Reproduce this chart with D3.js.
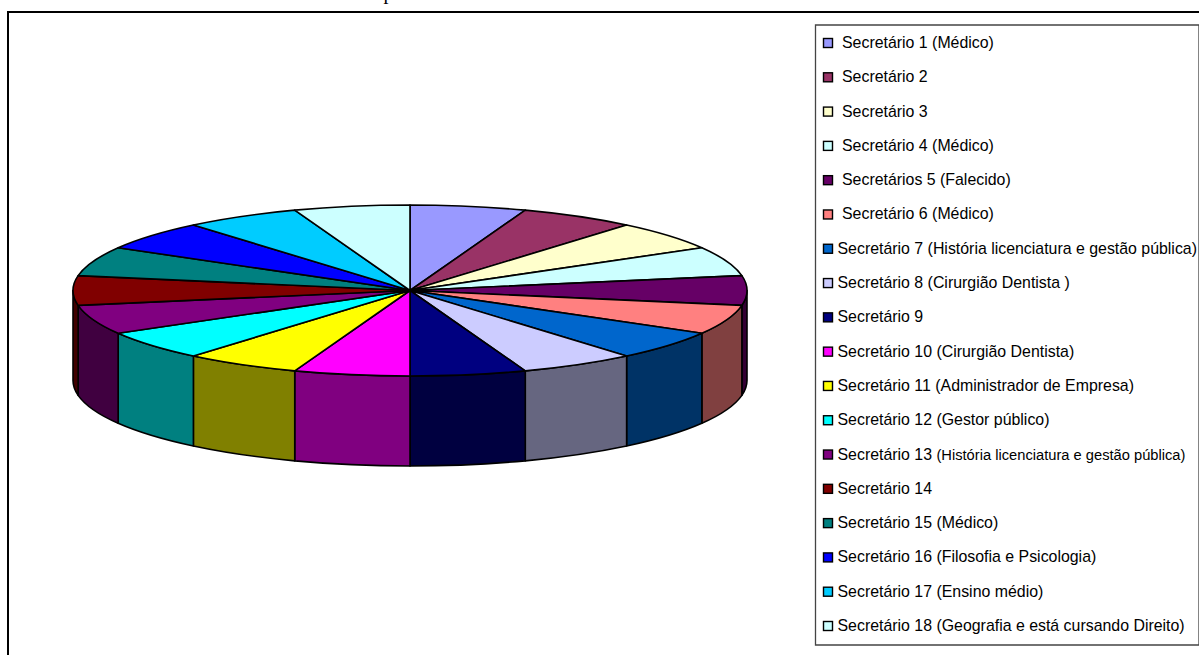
<!DOCTYPE html>
<html>
<head>
<meta charset="utf-8">
<script src="https://cdn.jsdelivr.net/npm/d3@7"></script>
<style>
  html, body { margin: 0; padding: 0; background: #fff; overflow: hidden; }
  svg { display: block; }
  text { font-family: "Liberation Sans", Arial, sans-serif; fill: #000; }
</style>
</head>
<body>
<svg width="1199" height="655"></svg>
<script>
// nomes dos secretarios, na ordem das fatias
const secretarios = [
  "Secretário 1 (Médico)",
  "Secretário 2",
  "Secretário 3",
  "Secretário 4 (Médico)",
  "Secretários 5 (Falecido)",
  "Secretário 6 (Médico)",
  "Secretário 7 (História licenciatura e gestão pública)",
  "Secretário 8 (Cirurgião Dentista )",
  "Secretário 9",
  "Secretário 10 (Cirurgião Dentista)",
  "Secretário 11 (Administrador de Empresa)",
  "Secretário 12 (Gestor público)",
  "Secretário 13 (História licenciatura e gestão pública)",
  "Secretário 14",
  "Secretário 15 (Médico)",
  "Secretário 16 (Filosofia e Psicologia)",
  "Secretário 17 (Ensino médio)",
  "Secretário 18 (Geografia e está cursando Direito)"
];
// cada secretario pesa o mesmo
const valores = [1, 1, 1, 1, 1, 1, 1, 1, 1, 1, 1, 1, 1, 1, 1, 1, 1, 1];
const cores = [
  "#9999ff", "#993366", "#ffffcc", "#ccffff", "#660066", "#ff8080",
  "#0066cc", "#ccccff", "#000080", "#ff00ff", "#ffff00", "#00ffff",
  "#800080", "#800000", "#008080", "#0000ff", "#00ccff", "#ccffff"
];

const svg = d3.select("svg");

// resto da linha de texto acima da moldura, cortada pela borda da pagina
svg.append("text")
  .attr("x", 383.5)
  .attr("y", -1)
  .attr("font-size", 20)
  .style("font-family", '"Liberation Serif", "Times New Roman", serif')
  .text("p");

// moldura externa
svg.append("path")
  .attr("d", "M8,655 V12 H1199")
  .attr("fill", "none")
  .attr("stroke", "#000")
  .attr("stroke-width", 2);

// pizza 3D
const cx = 410, cy = 290.5, rx = 337, ry = 85.5, altura = 90;
const fatias = d3.pie().sort(null)(valores);
const ponto = a => [cx + rx * Math.sin(a), cy - ry * Math.cos(a)];
const metadeCor = c => {
  const rgb = d3.rgb(c);
  return d3.rgb(rgb.r / 2, rgb.g / 2, rgb.b / 2).formatHex();
};

const pizza = svg.append("g");

// lateral: so aparece a parte da frente, de 90 a 270 graus
pizza.selectAll(".lateral")
  .data(fatias.filter(d => d.endAngle > Math.PI / 2 && d.startAngle < 3 * Math.PI / 2))
  .enter()
  .append("path")
  .attr("class", "lateral")
  .attr("fill", d => metadeCor(cores[d.index]))
  .attr("stroke", "#000")
  .attr("stroke-width", 1.6)
  .attr("stroke-linejoin", "round")
  .attr("d", d => {
    const [x0, y0] = ponto(Math.max(d.startAngle, Math.PI / 2));
    const [x1, y1] = ponto(Math.min(d.endAngle, 3 * Math.PI / 2));
    return `M${x0},${y0} A${rx},${ry} 0 0 1 ${x1},${y1} V${y1 + altura} A${rx},${ry} 0 0 0 ${x0},${y0 + altura} Z`;
  });

// tampo: d3.arc achatado em elipse
const arco = d3.arc().innerRadius(0).outerRadius(rx);
pizza.append("g")
  .attr("transform", `translate(${cx},${cy}) scale(1,${ry / rx})`)
  .selectAll(".fatia")
  .data(fatias)
  .enter()
  .append("path")
  .attr("class", "fatia")
  .attr("d", arco)
  .attr("fill", d => cores[d.index])
  .attr("stroke", "#000")
  .attr("stroke-width", 1.6)
  .attr("stroke-linejoin", "round")
  .attr("vector-effect", "non-scaling-stroke");

// legenda
const legenda = svg.append("g");
legenda.append("path")
  .attr("d", "M815.5,645 V25 H1199 V645 Z")
  .attr("fill", "#fff")
  .attr("stroke", "#444")
  .attr("stroke-width", 1.3);

const yLegenda = d3.scalePoint()
  .domain(d3.range(secretarios.length))
  .range([43, 626]);

const itens = legenda.selectAll(".item")
  .data(secretarios)
  .enter()
  .append("g")
  .attr("class", "item")
  .attr("transform", (d, i) => `translate(0,${yLegenda(i)})`);

itens.append("rect")
  .attr("x", 823.5)
  .attr("y", -4.5)
  .attr("width", 9)
  .attr("height", 9)
  .attr("fill", (d, i) => cores[i])
  .attr("stroke", "#000")
  .attr("stroke-width", 1.4);

// os seis primeiros ficam um pouco mais afastados do quadrado
const textos = itens.append("text")
  .attr("x", (d, i) => i < 6 ? 842 : 837.5)
  .attr("y", 5)
  .attr("font-size", 15.9);

textos.filter((d, i) => i !== 12).text(d => d);

// o 13 tem a descricao em corpo menor
const item13 = textos.filter((d, i) => i === 12);
item13.append("tspan").text(d => d.slice(0, d.indexOf("(")));
item13.append("tspan").attr("font-size", 14.7).text(d => d.slice(d.indexOf("(")));
</script>
</body>
</html>
